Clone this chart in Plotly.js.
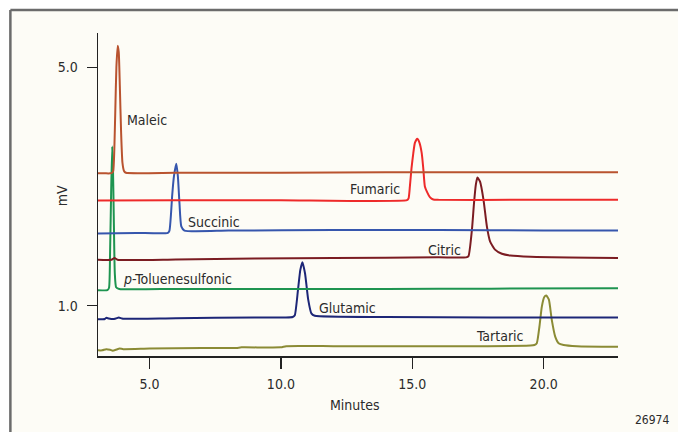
<!DOCTYPE html>
<html>
<head>
<meta charset="utf-8">
<script src="https://cdn.plot.ly/plotly-3.0.1.min.js"></script>
<style>
  html, body { margin: 0; padding: 0; background: #ffffff; }
  #chart { width: 678px; height: 432px; }
</style>
</head>
<body>
<div id="chart"></div>
<script>
// ---- Data (time in minutes, signal in mV) ----
const maleicTime   = [3.04, 3.30, 3.50, 3.58, 3.62, 3.66, 3.70, 3.74, 3.79, 3.83, 3.87, 3.92, 3.97, 4.03, 4.10, 6.0, 10.0, 14.0, 18.0, 22.83];
const maleicSignal = [3.22, 3.22, 3.22, 3.23, 3.26, 3.60, 4.30, 5.00, 5.36, 5.25, 4.70, 3.90, 3.40, 3.26, 3.23, 3.23, 3.23, 3.24, 3.24, 3.24];

const fumaricTime   = [3.04, 6.0, 10.0, 14.80, 14.86, 14.91, 14.97, 15.04, 15.10, 15.19, 15.27, 15.36, 15.42, 15.48, 15.57, 15.67, 15.80, 16.0, 19.0, 22.83];
const fumaricSignal = [2.765, 2.77, 2.77, 2.77, 2.80, 3.00, 3.30, 3.56, 3.73, 3.80, 3.74, 3.56, 3.30, 3.00, 2.90, 2.82, 2.78, 2.775, 2.775, 2.775];

const succinicTime   = [3.04, 4.5, 5.70, 5.76, 5.82, 5.86, 5.93, 6.02, 6.08, 6.14, 6.21, 6.33, 8.0, 12.0, 16.0, 20.0, 22.83];
const succinicSignal = [2.21, 2.22, 2.22, 2.26, 2.55, 2.83, 3.17, 3.38, 3.17, 2.72, 2.33, 2.26, 2.26, 2.27, 2.27, 2.26, 2.26];

const citricTime   = [3.04, 3.55, 3.67, 3.78, 6.0, 9.0, 12.0, 16.0, 17.05, 17.14, 17.27, 17.35, 17.42, 17.48, 17.58, 17.71, 17.84, 17.96, 18.15, 18.41, 18.73, 19.5, 22.83];
const citricSignal = [1.77, 1.77, 1.80, 1.77, 1.775, 1.79, 1.80, 1.81, 1.81, 1.83, 2.27, 2.72, 3.03, 3.15, 3.08, 2.78, 2.33, 2.08, 1.94, 1.87, 1.84, 1.82, 1.80];

const toluTime   = [3.04, 3.40, 3.46, 3.50, 3.54, 3.58, 3.61, 3.64, 3.68, 3.73, 3.85, 6.0, 10.0, 14.0, 18.0, 22.83];
const toluSignal = [1.26, 1.26, 1.30, 1.90, 2.90, 3.67, 3.30, 2.50, 1.54, 1.31, 1.28, 1.28, 1.28, 1.28, 1.285, 1.29];

const glutamicTime   = [3.04, 3.30, 3.35, 3.45, 3.60, 3.72, 3.83, 3.95, 4.05, 6.0, 9.0, 10.45, 10.53, 10.65, 10.74, 10.82, 10.92, 11.04, 11.16, 11.29, 14.0, 18.0, 22.83];
const glutamicSignal = [0.77, 0.775, 0.795, 0.785, 0.775, 0.785, 0.80, 0.785, 0.78, 0.79, 0.80, 0.81, 0.84, 1.26, 1.60, 1.73, 1.54, 1.10, 0.87, 0.83, 0.81, 0.80, 0.80];

const tartaricTime   = [3.04, 3.20, 3.35, 3.50, 3.60, 3.75, 3.86, 4.0, 5.0, 7.0, 8.3, 8.5, 10.0, 10.2, 12.0, 14.0, 16.0, 17.5, 19.5, 19.65, 19.74, 19.84, 19.93, 20.02, 20.10, 20.20, 20.31, 20.44, 20.57, 20.76, 21.27, 22.83];
const tartaricSignal = [0.25, 0.25, 0.27, 0.26, 0.245, 0.265, 0.28, 0.27, 0.28, 0.29, 0.29, 0.30, 0.30, 0.32, 0.32, 0.32, 0.32, 0.32, 0.33, 0.34, 0.37, 0.65, 0.98, 1.14, 1.17, 1.10, 0.76, 0.48, 0.37, 0.34, 0.32, 0.31];

const xTickVals = [5, 10, 15, 20];
const xTickText = ["5.0", "10.0", "15.0", "20.0"];
const yTickVals = [1, 5];
const yTickText = ["1.0", "5.0"];

// peak labels: [text, time, mV, anchor]
const peakLabels = [
  ["Maleic", 4.05, 4.11, "left"],
  ["Fumaric", 14.60, 2.95, "right"],
  ["Succinic", 6.39, 2.40, "left"],
  ["Citric", 16.92, 1.94, "right"],
  ["<i>p</i>-Toluenesulfonic", 3.91, 1.45, "left"],
  ["Glutamic", 11.36, 0.965, "left"],
  ["Tartaric", 19.33, 0.49, "right"]
];

const FONT = "'DejaVu Sans Condensed', 'Liberation Sans', sans-serif";
const TXT = "#2b2b2b";
const CREAM = "#fdfcf6";

function trace(x, y, color, name) {
  return { x: x, y: y, type: "scatter", mode: "lines", name: name,
           line: { color: color, width: 2, shape: "spline", smoothing: 0.5 },
           hoverinfo: "skip", showlegend: false };
}

const data = [
  trace(tartaricTime, tartaricSignal, "#8b8b35", "Tartaric"),
  trace(glutamicTime, glutamicSignal, "#1d2677", "Glutamic"),
  trace(toluTime, toluSignal, "#1e9450", "p-Toluenesulfonic"),
  trace(citricTime, citricSignal, "#7b1c22", "Citric"),
  trace(succinicTime, succinicSignal, "#3656ad", "Succinic"),
  trace(fumaricTime, fumaricSignal, "#ee2a2a", "Fumaric"),
  trace(maleicTime, maleicSignal, "#b9532f", "Maleic")
];

const annotations = peakLabels.map(function (p) {
  return { text: p[0], x: p[1], y: p[2], xref: "x", yref: "y",
           xanchor: p[3], yanchor: "middle", showarrow: false,
           font: { family: FONT, size: 14, color: TXT } };
});
annotations.push({ text: "Minutes", x: 0.495, y: -0.152, xref: "paper", yref: "paper",
  xanchor: "center", yanchor: "middle", showarrow: false, font: { family: FONT, size: 14, color: TXT } });
annotations.push({ text: "mV", x: -0.069, y: 0.495, xref: "paper", yref: "paper", textangle: -90,
  xanchor: "center", yanchor: "middle", showarrow: false, font: { family: FONT, size: 14, color: TXT } });
annotations.push({ text: "26974", x: 1.065, y: -0.198, xref: "paper", yref: "paper",
  xanchor: "center", yanchor: "middle", showarrow: false, font: { family: FONT, size: 12, color: TXT } });

const layout = {
  width: 678, height: 432,
  margin: { l: 98, r: 60, t: 33, b: 76 },
  paper_bgcolor: "#ffffff",
  plot_bgcolor: CREAM,
  showlegend: false,
  font: { family: FONT, size: 14, color: TXT },
  xaxis: {
    range: [3.04, 22.83], tickvals: xTickVals, ticktext: xTickText,
    ticks: "outside", ticklen: 11, tickwidth: 1.3, tickcolor: "#222",
    showline: true, linecolor: "#222", linewidth: 1.5,
    showgrid: false, zeroline: false, ticklabelstandoff: 4,
    tickfont: { family: FONT, size: 14, color: TXT }
  },
  yaxis: {
    range: [0.155, 5.575], tickvals: yTickVals, ticktext: yTickText,
    ticks: "outside", ticklen: 10, tickwidth: 1.3, tickcolor: "#222",
    showline: true, linecolor: "#222", linewidth: 1.5,
    showgrid: false, zeroline: false, ticklabelstandoff: 6,
    tickfont: { family: FONT, size: 14, color: TXT }
  },
  shapes: [
    { type: "rect", xref: "paper", yref: "paper", x0: -0.167, x1: 1.2, y0: -0.3, y1: 1.071,
      fillcolor: CREAM, line: { width: 0 }, layer: "below" },
    { type: "line", xref: "paper", yref: "paper", x0: -0.1685, x1: 1.2, y0: 1.0715, y1: 1.0715,
      line: { color: "#6b6b6b", width: 2.5 } },
    { type: "line", xref: "paper", yref: "paper", x0: -0.1685, x1: -0.1685, y0: 1.0715, y1: -0.3,
      line: { color: "#6b6b6b", width: 2.5 } }
  ],
  annotations: annotations
};

Plotly.newPlot("chart", data, layout, { staticPlot: true, displayModeBar: false });
</script>
</body>
</html>
